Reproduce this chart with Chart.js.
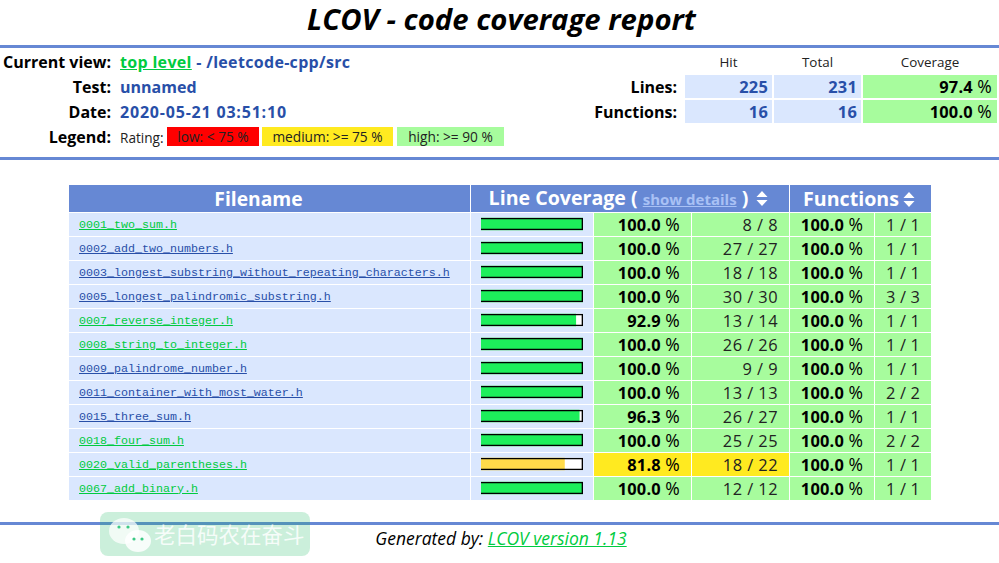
<!DOCTYPE html>
<html>
<head>
<meta charset="utf-8">
<title>LCOV - code coverage report</title>
<script src="https://cdn.jsdelivr.net/npm/chart.js@4"></script>
<style>
  html, body { margin: 0; padding: 0; background: #fff; }
  body { width: 999px; height: 563px; position: relative; overflow: hidden; font-family: "Open Sans", sans-serif; color: #000; }
  .abs { position: absolute; white-space: nowrap; }
  .rule { position: absolute; left: 0; width: 999px; height: 3px; background: #6688d4; }
  .title { left: 0; width: 999px; top: 0; padding-left: 4px; box-sizing: border-box; text-align: center; font-size: 29.3px; line-height: 38px; font-weight: 700; font-style: italic; }
  .lbl { width: 111px; left: 0; text-align: right; font-size: 16px; font-weight: 700; line-height: 24px; }
  .val { left: 120px; font-size: 16px; font-weight: 700; line-height: 24px; color: #284fa8; }
  .val a { color: #00cb40; }
  .rating { text-align: center; font-size: 13.7px; line-height: 20px; height: 19px; color: #222; }
  .hd { font-size: 13.4px; line-height: 18px; text-align: center; color: #222; }
  .cell { font-size: 16.4px; font-weight: 700; line-height: 23px; height: 23px; text-align: right; box-sizing: border-box; padding-right: 4px; letter-spacing: .2px; }
  .cell i { font-style: normal; font-weight: 400; font-size: 17.5px; }
  .cell.hi { padding-right: 5px; }
  table { position: absolute; left: 68px; top: 184px; border-collapse: separate; border-spacing: 1px; table-layout: fixed; width: 864px; }
  th { background: #6688d4; color: #fff; height: 27px; max-height: 27px; padding: 0; font-size: 19.6px; font-weight: 700; line-height: 26px; white-space: nowrap; overflow: hidden; }
  th.name { padding-right: 22px; box-sizing: border-box; font-size: 19.3px; }
  th.lines { padding-right: 3px; box-sizing: border-box; }
  th.lines svg { margin-left: 3px; }
  th.funcs { padding-right: 3px; box-sizing: border-box; }
  th.funcs svg { margin-left: -1px; }
  th a { color: #a9c1f5; font-size: 15px; }
  th svg { vertical-align: -1px; }
  td { height: 23px; padding: 0; line-height: 22px; font-size: 16.4px; white-space: nowrap; overflow: hidden; letter-spacing: .2px; }
  td.file { background: #dae7fe; font-family: "Liberation Mono", monospace; font-size: 11.67px; padding-left: 10px; letter-spacing: 0; }
  td.file a { color: #284fa8; }
  td.file a.seen { color: #00cb40; }
  td.bar { background: #dae7fe; }
  td.pct { text-align: right; padding-right: 11px; font-weight: 700; }
  td.pct i, td.fp i { font-style: normal; font-weight: 400; font-size: 17.5px; line-height: 20px; }
  td.cnt { text-align: right; padding-right: 11px; color: #222; letter-spacing: .45px; }
  td.fp { text-align: center; font-weight: 700; }
  td.fc { text-align: center; color: #222; }
  .hi { background: #a7fc9d; }
  .med { background: #ffea20; }
  #barBox { position: absolute; left: 471px; top: 212px; width: 122px; height: 288px; }
  .foot { left: 0; width: 999px; top: 527px; padding-left: 3px; box-sizing: border-box; text-align: center; font-size: 17.5px; line-height: 22px; font-style: italic; }
  .foot a { color: #00cb40; }
  .mark { position: absolute; left: 100px; top: 512px; width: 210px; height: 44px; border-radius: 8px; background: rgba(30, 185, 100, 0.23); }
  .mark span { position: absolute; left: 54px; top: 7px; font-family: "Noto Sans CJK SC", sans-serif; font-size: 21.5px; line-height: 30px; color: rgba(255, 255, 255, 0.85); }
  .mark svg { position: absolute; left: 7px; top: 4px; }
</style>
</head>
<body>
<div class="abs title">LCOV - code coverage report</div>
<div class="rule" style="top:45px"></div>
<div class="abs lbl" style="top:50px">Current view:</div>
<div class="abs val" style="top:50px;letter-spacing:.32px"><a href="#">top level</a> - /leetcode-cpp/src</div>
<div class="abs lbl" style="top:75px">Test:</div>
<div class="abs val" style="top:75px">unnamed</div>
<div class="abs lbl" style="top:100px">Date:</div>
<div class="abs val" style="top:100px;letter-spacing:.8px">2020-05-21 03:51:10</div>
<div class="abs lbl" style="top:125px">Legend:</div>
<div class="abs" style="left:120px;top:129px;font-size:13.6px;line-height:18px;color:#222">Rating:</div>
<div class="abs rating" style="left:167px;top:127px;width:92px;background:#ff0000">low: &lt; 75 %</div>
<div class="abs rating" style="left:262px;top:127px;width:131px;background:#ffea20">medium: &gt;= 75 %</div>
<div class="abs rating" style="left:397px;top:127px;width:107px;background:#a7fc9d">high: &gt;= 90 %</div>

<div class="abs hd" style="left:685px;top:53px;width:87px">Hit</div>
<div class="abs hd" style="left:774px;top:53px;width:87px">Total</div>
<div class="abs hd" style="left:863px;top:53px;width:134px">Coverage</div>
<div class="abs lbl" style="left:577px;width:100px;top:75px">Lines:</div>
<div class="abs lbl" style="left:577px;width:100px;top:100px">Functions:</div>
<div id="summary"></div>
<div class="rule" style="top:157px"></div>

<table id="covTable"></table>
<div id="barBox"><canvas id="coverageChart"></canvas></div>

<div class="rule" style="top:522px"></div>
<div class="abs foot">Generated by: <a href="#">LCOV version 1.13</a></div>
<div class="mark">
  <svg width="46" height="40" viewBox="0 0 46 40">
    <ellipse cx="17" cy="15" rx="15" ry="13" fill="rgba(255,255,255,.72)"/>
    <ellipse cx="31" cy="25" rx="13" ry="11" fill="rgba(255,255,255,.85)"/>
    <circle cx="12" cy="11" r="1.6" fill="#3cc985"/><circle cx="21" cy="11" r="1.6" fill="#3cc985"/>
    <circle cx="27" cy="23" r="1.6" fill="#3cc985"/><circle cx="35" cy="23" r="1.6" fill="#3cc985"/>
  </svg>
  <span>老白码农在奋斗</span>
</div>

<script>
// file table data
const fileNames = [
    '0001_two_sum.h', '0002_add_two_numbers.h',
    '0003_longest_substring_without_repeating_characters.h',
    '0005_longest_palindromic_substring.h', '0007_reverse_integer.h',
    '0008_string_to_integer.h', '0009_palindrome_number.h',
    '0011_container_with_most_water.h', '0015_three_sum.h',
    '0018_four_sum.h', '0020_valid_parentheses.h', '0067_add_binary.h'
];
const visitedLinks = [true, false, false, false, true, true, false, false, false, true, true, true];
const lineCoverage = [100.0, 100.0, 100.0, 100.0, 92.9, 100.0, 100.0, 100.0, 96.3, 100.0, 81.8, 100.0];
const lineHit = [8, 27, 18, 30, 13, 26, 9, 13, 26, 25, 18, 12];
const lineTotal = [8, 27, 18, 30, 14, 26, 9, 13, 27, 25, 22, 12];
const funcCoverage = [100.0, 100.0, 100.0, 100.0, 100.0, 100.0, 100.0, 100.0, 100.0, 100.0, 100.0, 100.0];
const funcHit = [1, 1, 1, 3, 1, 1, 1, 2, 1, 2, 1, 1];
const funcTotal = [1, 1, 1, 3, 1, 1, 1, 2, 1, 2, 1, 1];
const fullBar = [100, 100, 100, 100, 100, 100, 100, 100, 100, 100, 100, 100];

// summary block
const summaryHit = [225, 16];
const summaryTotal = [231, 16];
const summaryCoverage = [97.4, 100.0];

const sortArrows = '<svg width="12" height="15" viewBox="0 0 13 16"><path d="M6.5 0L12.5 6.5H.5zM6.5 16L.5 9.5H12.5z" fill="#fff"/></svg>';

function buildSummary() {
    const tops = [75, 100];
    let html = '';
    summaryHit.forEach(function (hit, i) {
        html += '<div class="abs cell" style="left:685px;width:87px;top:' + tops[i] + 'px;background:#dae7fe;color:#284fa8">' + hit + '</div>';
        html += '<div class="abs cell" style="left:774px;width:87px;top:' + tops[i] + 'px;background:#dae7fe;color:#284fa8">' + summaryTotal[i] + '</div>';
        html += '<div class="abs cell hi" style="left:863px;width:134px;top:' + tops[i] + 'px">' + summaryCoverage[i].toFixed(1) + ' <i>%</i></div>';
    });
    document.getElementById('summary').innerHTML = html;
}

function buildTable() {
    let html = '<colgroup><col style="width:401px"><col style="width:122px"><col style="width:97px"><col style="width:97px"><col style="width:84px"><col style="width:56px"></colgroup>';
    html += '<tr><th class="name">Filename</th><th class="lines" colspan="3">Line Coverage ( <a href="#">show details</a> ) ' + sortArrows + '</th><th class="funcs" colspan="2">Functions ' + sortArrows + '</th></tr>';
    fileNames.forEach(function (name, i) {
        const rate = lineCoverage[i] >= 90 ? 'hi' : 'med';
        html += '<tr>'
            + '<td class="file"><a href="#"' + (visitedLinks[i] ? ' class="seen"' : '') + '>' + name + '</a></td>'
            + '<td class="bar"></td>'
            + '<td class="pct ' + rate + '">' + lineCoverage[i].toFixed(1) + ' <i>%</i></td>'
            + '<td class="cnt ' + rate + '">' + lineHit[i] + ' / ' + lineTotal[i] + '</td>'
            + '<td class="fp hi">' + funcCoverage[i].toFixed(1) + ' <i>%</i></td>'
            + '<td class="fc hi">' + funcHit[i] + ' / ' + funcTotal[i] + '</td>'
            + '</tr>';
    });
    document.getElementById('covTable').innerHTML = html;
}

function buildChart() {
    const ctx = document.getElementById('coverageChart').getContext('2d');
    new Chart(ctx, {
        type: 'bar',
        data: {
            labels: fileNames,
            datasets: [
                { label: 'track', data: fullBar, backgroundColor: '#ffffff', order: 3 },
                {
                    label: 'Line Coverage',
                    data: lineCoverage,
                    backgroundColor: lineCoverage.map(function (v) { return v >= 90 ? '#1def5b' : '#ffdb4a'; }),
                    order: 2
                },
                { label: 'frame', data: fullBar, backgroundColor: 'rgba(0,0,0,0)', borderColor: '#000000', borderWidth: 1, order: 1 }
            ]
        },
        options: {
            indexAxis: 'y',
            responsive: true,
            maintainAspectRatio: false,
            animation: { duration: 0 },
            layout: { padding: { left: 10, right: 10, top: 0, bottom: 0 } },
            datasets: { bar: { grouped: false, barThickness: 12 } },
            plugins: { legend: { display: false }, tooltip: { enabled: false } },
            scales: {
                x: { display: false, min: 0, max: 100 },
                y: { display: false }
            }
        }
    });
}

buildSummary();
buildTable();
buildChart();
</script>
</body>
</html>
